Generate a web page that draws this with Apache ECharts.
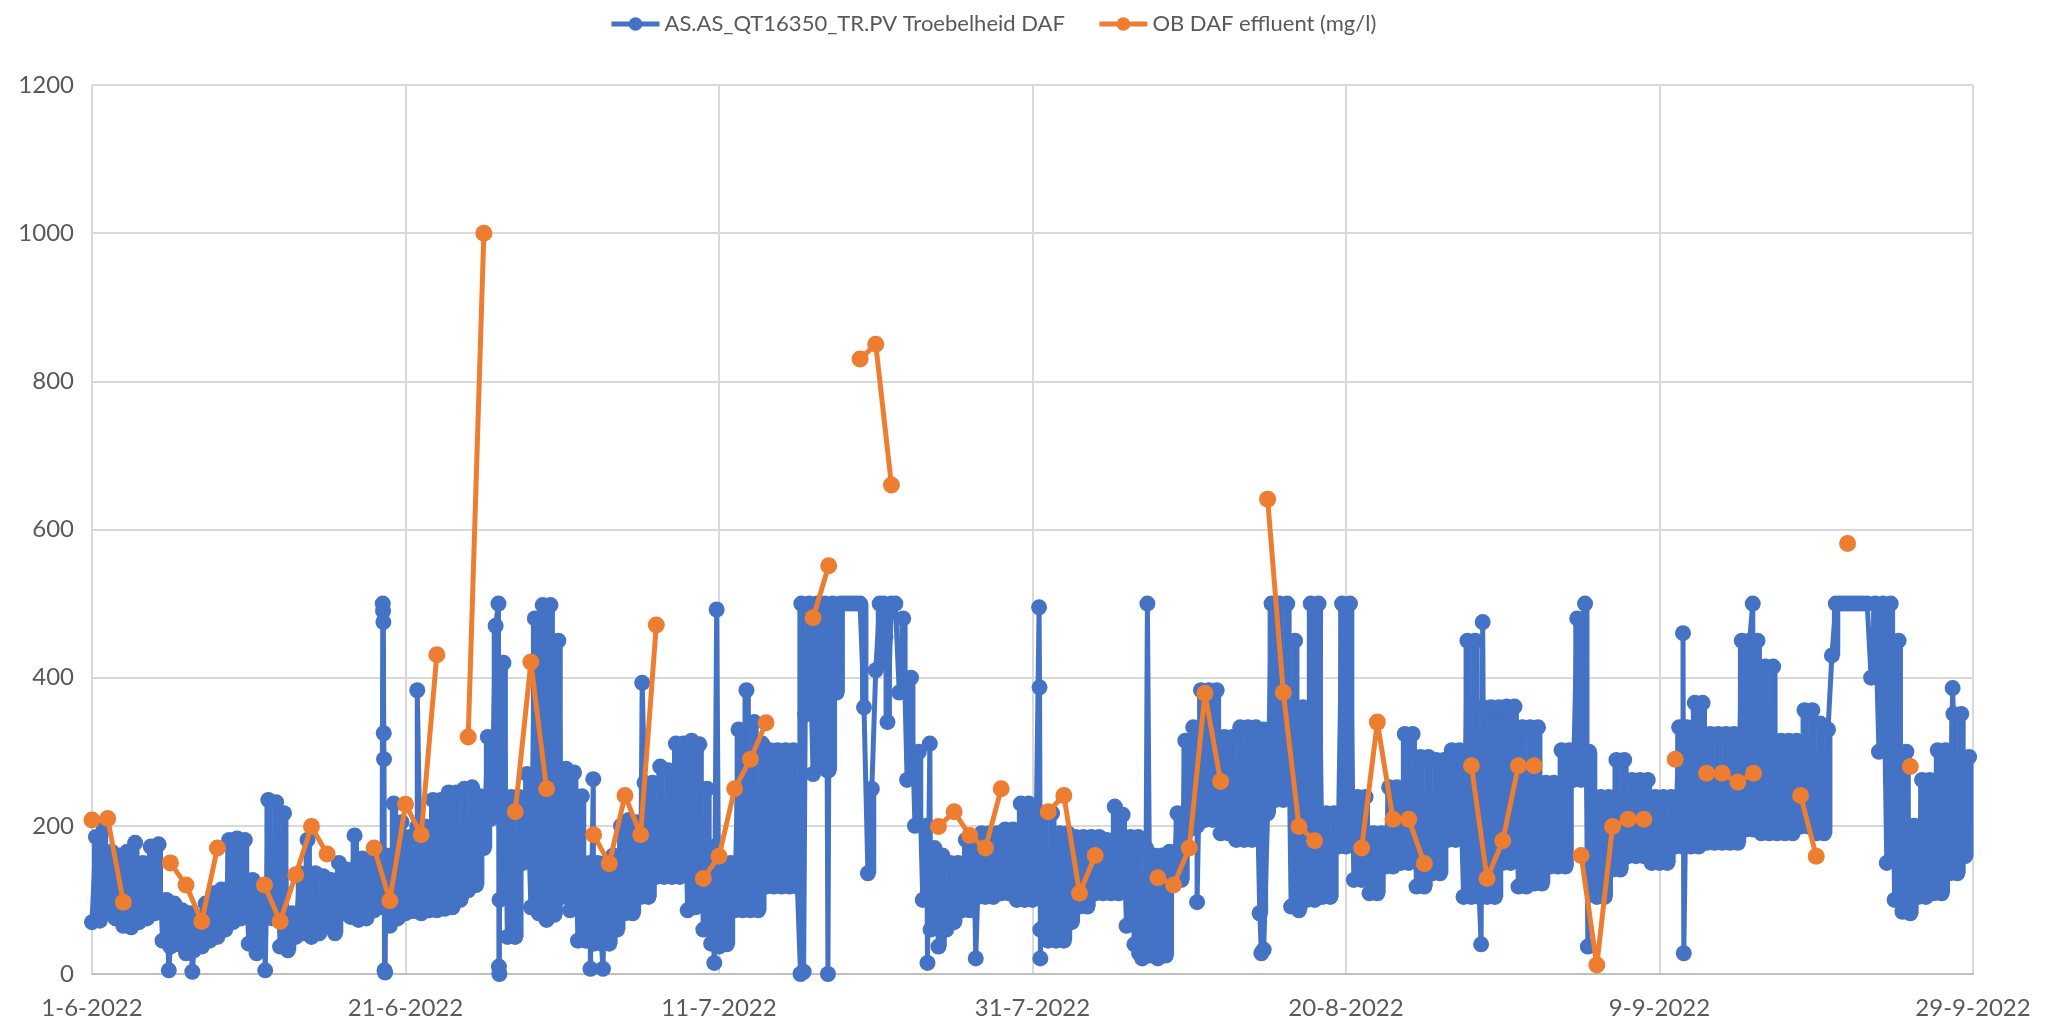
<!DOCTYPE html>
<html>
<head>
<meta charset="utf-8">
<script src="https://cdn.jsdelivr.net/npm/echarts@6/dist/echarts.min.js"></script>
<style>
  html, body { margin: 0; padding: 0; background: #fff; }
  #main { width: 2054px; height: 1025px; }
</style>
</head>
<body>
<div id="main"></div>
<script>
// x is days since 1-6-2022
const startDate = [2022, 5, 1];
const xTickDays = [0, 20, 40, 60, 80, 100, 120];
const yTicks = [0, 200, 400, 600, 800, 1000, 1200];

// sensor readings, 4 per day (every 6 hours), one row per day
const turbidityRows = [
  [70,185,72,195],[82,165,75,160],[65,165,63,177],[70,150,75,172],[82,175,45,100],
  [37,95,40,86],[28,82,32,77],[37,95,45,109],[50,114,60,181],[70,183,75,181],
  [41,127,28,104],[80,235,75,232],[37,217,32,82],[50,136,55,181],[50,136,55,132],
  [65,127,55,150],[82,141,77,187],[73,156,75,150],[86,150,90,160],[65,230,75,205],
  [82,185,85,199],[82,199,86,235],[86,235,88,245],[90,245,100,250],[113,252,120,240],
  [170,320,210,470],[100,420,50,239],[50,239,150,270],[90,480,82,498],[73,498,80,450],
  [104,277,86,272],[45,240,45,150],[41,150,41,150],[41,160,60,200],[82,208,82,205],
  [104,258,104,258],[131,280,131,275],[131,311,131,311],[86,315,90,310],[60,250,41,172],
  [37,150,40,150],[86,330,86,383],[86,340,86,311],[118,302,118,302],[118,302,118,302],
  [118,500,350,500],[270,500,290,500],[275,500,380,500],[500,500,500,500],[500,360,136,250],
  [410,500,500,340],[500,500,380,480],[262,400,200,300],[100,200,60,170],[37,160,60,150],
  [70,150,86,181],[86,181,104,190],[104,190,104,190],[109,195,109,195],[100,230,100,230],
  [100,217,60,217],[45,217,45,190],[45,190,70,185],[91,185,91,185],[109,185,109,181],
  [109,226,109,215],[65,185,40,185],[21,170,25,160],[21,160,25,165],[127,217,127,315],
  [195,333,200,383],[208,383,208,383],[190,320,190,320],[181,333,181,333],[181,333,82,330],
  [217,500,235,500],[235,500,91,450],[86,360,100,500],[100,500,104,217],[104,217,172,500],
  [172,500,127,239],[127,239,109,190],[109,190,145,252],[145,252,150,324],[150,324,118,293],
  [118,293,136,289],[136,289,181,302],[181,302,104,450],[104,450,104,360],[104,360,104,360],
  [150,361,150,361],[118,333,118,333],[122,333,122,258],[145,258,145,302],[145,302,262,480],
  [262,500,300,109],[104,239,104,239],[141,289,141,289],[159,262,159,262],[159,262,150,239],
  [150,239,150,239],[172,333,172,333],[172,366,172,366],[177,324,177,324],[177,324,177,324],
  [177,450,195,450],[195,450,190,415],[190,415,190,315],[190,315,190,315],[199,356,199,356],
  [190,338,190,330],[430,500,500,500],[500,500,500,500],[500,500,400,500],[300,500,150,500],
  [100,450,84,300],[82,200,104,262],[104,262,109,302],[109,302,136,351],[136,351,159,293]
];

// single readings between the 6-hourly ones (spikes and dips), [day, value]
const turbiditySpikes = [
  [4.9,5],[6.4,3],[11.05,5],
  [18.55,500],[18.57,490],[18.59,475],[18.61,325],[18.63,290],[18.66,5],[18.7,2],
  [20.75,383],[25.93,500],[25.96,10],[25.99,0],
  [31.8,7],[31.98,263],[32.6,7],[35.1,393],[39.65,45],[39.7,15],[39.85,492],
  [45.2,0],[45.4,3],[46.9,275],[46.95,0],[50.62,455],
  [53.3,15],[53.45,311],[56.38,21],[60.42,495],[60.45,387],[60.5,21],
  [66.8,28],[67.33,500],[70.5,97],[74.5,82],[74.6,28],[74.75,33],
  [88.62,40],[88.72,475],[95.43,37],[101.5,460],[101.55,28],[105.95,500],[118.7,386]
];

// lab samples, one per day (null = no sample)
const labValues = [
  208,210,97,null,null,150,120,71,170,null,
  null,120,71,134,199,162,null,null,170,99,
  229,188,431,null,320,1000,null,219,421,250,
  null,null,188,149,241,188,471,null,null,129,
  159,250,290,339,null,null,481,551,null,830,
  850,660,null,null,199,219,187,170,250,null,
  null,219,241,109,160,null,null,null,130,120,
  170,379,260,null,null,641,380,199,180,null,
  null,170,340,209,209,149,null,null,281,129,
  180,281,281,null,null,160,12,199,209,209,
  null,290,null,271,271,259,271,null,null,241,
  159,null,581,null,null,null,280
];

const blueData = [];
const bandData = []; // [dayStart, dayEnd, low, high] per half day
turbidityRows.forEach((row, d) => {
  row.forEach((v, i) => blueData.push([d + i * 0.25, v]));
  for (let h = 0; h < 2; h++) {
    const a = row[2 * h], b = row[2 * h + 1];
    bandData.push([d + h * 0.5, d + h * 0.5 + 0.5, Math.min(a, b), Math.max(a, b)]);
  }
});
turbiditySpikes.forEach(p => blueData.push(p));
blueData.sort((a, b) => a[0] - b[0]);

const orangeData = labValues.map((v, d) => [d, v === null ? '-' : v]);

const dayLabel = (d) => {
  const dt = new Date(startDate[0], startDate[1], startDate[2] + Math.round(d));
  return dt.getDate() + '-' + (dt.getMonth() + 1) + '-' + dt.getFullYear();
};

const blue = '#4472c4';
const orange = '#ed7d31';
const font = 'Lato, "Open Sans", sans-serif';
const chart = echarts.init(document.getElementById('main'));

chart.setOption({
  animation: false,
  backgroundColor: '#ffffff',
  textStyle: { fontFamily: font },
  legend: {
    top: 8,
    left: 604,
    itemWidth: 48,
    itemHeight: 17,
    itemGap: 32,
    lineStyle: { width: 5 },
    textStyle: { fontSize: 22, color: '#595959', fontFamily: font },
    data: ['AS.AS_QT16350_TR.PV Troebelheid DAF', 'OB DAF effluent (mg/l)']
  },
  grid: { left: 92, right: 81, top: 85, bottom: 51, outerBoundsMode: 'none' },
  xAxis: {
    type: 'value',
    min: xTickDays[0],
    max: xTickDays[xTickDays.length - 1],
    interval: 20,
    axisLine: { show: true, lineStyle: { color: '#bfbfbf', width: 2 } },
    axisTick: { show: false },
    splitLine: { show: true, lineStyle: { color: '#d9d9d9', width: 2 } },
    axisLabel: { formatter: dayLabel, fontSize: 24, color: '#595959', margin: 22, fontFamily: font }
  },
  yAxis: {
    type: 'value',
    min: yTicks[0],
    max: yTicks[yTicks.length - 1],
    interval: 200,
    axisLine: { show: false },
    axisTick: { show: false },
    splitLine: { show: true, lineStyle: { color: '#d9d9d9', width: 2 } },
    axisLabel: { formatter: v => String(v), fontSize: 24, color: '#595959', margin: 18, fontFamily: font }
  },
  series: [
    {
      name: 'band',
      type: 'custom',
      data: bandData,
      encode: { x: [0, 1], y: [2, 3] },
      silent: true,
      z: 1,
      renderItem: (params, api) => {
        const p0 = api.coord([api.value(0), api.value(3)]);
        const p1 = api.coord([api.value(1), api.value(2)]);
        return {
          type: 'rect',
          shape: { x: p0[0], y: p0[1], width: p1[0] - p0[0] + 0.5, height: p1[1] - p0[1] },
          style: { fill: blue }
        };
      }
    },
    {
      name: 'AS.AS_QT16350_TR.PV Troebelheid DAF',
      type: 'line',
      data: blueData,
      symbol: 'circle',
      symbolSize: 16,
      showAllSymbol: true,
      itemStyle: { color: blue },
      lineStyle: { color: blue, width: 5 },
      z: 2
    },
    {
      name: 'OB DAF effluent (mg/l)',
      type: 'line',
      data: orangeData,
      connectNulls: false,
      symbol: 'circle',
      symbolSize: 17,
      showAllSymbol: true,
      itemStyle: { color: orange },
      lineStyle: { color: orange, width: 5 },
      z: 3
    }
  ]
});

window.addEventListener('resize', () => chart.resize());
</script>
</body>
</html>
